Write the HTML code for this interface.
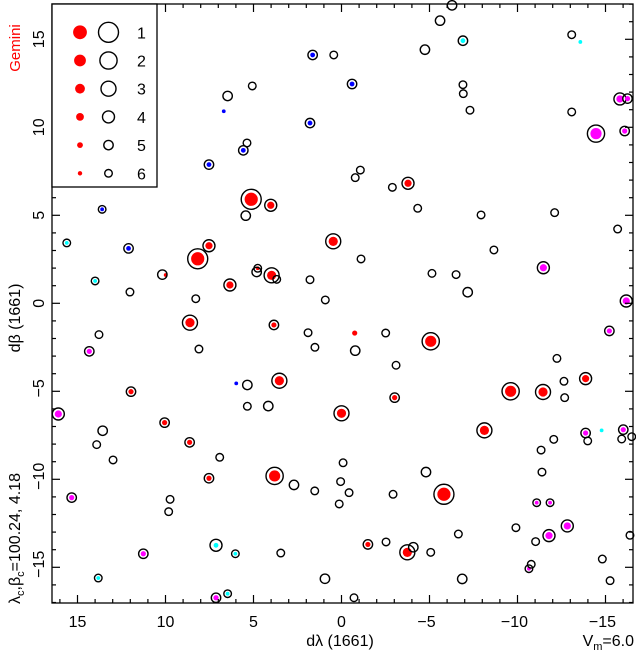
<!DOCTYPE html>
<html><head><meta charset="utf-8"><style>
html,body{margin:0;padding:0;background:#fff;}
svg{display:block;font-family:"Liberation Sans",sans-serif;}
</style></head><body>
<svg id="chart" width="636" height="655" viewBox="0 0 636 655" xmlns="http://www.w3.org/2000/svg">
<g id="marks"></g>
<g id="axes"></g>
<rect x="52" y="4" width="105" height="183" fill="#fff" stroke="#000" stroke-width="1.3"/>
<g id="legend"></g>
<text transform="translate(20,48) rotate(-90)" text-anchor="middle" font-size="15" fill="#ff0000">Gemini</text>
<text transform="translate(20,318) rotate(-90)" text-anchor="middle" font-size="16">dβ (1661)</text>
<text transform="translate(20,604) rotate(-90)" font-size="16">λ<tspan font-size="11" dy="4">c</tspan><tspan dy="-4">,β</tspan><tspan font-size="11" dy="4">c</tspan><tspan dy="-4">=100.24,   4.18</tspan></text>
<text x="340" y="646" text-anchor="middle" font-size="16">dλ (1661)</text>
<text x="634" y="646" text-anchor="end" font-size="16">V<tspan font-size="11" dy="4">m</tspan><tspan dy="-4">=6.0</tspan></text>
</svg>
<script>
const dl=[8.17,5.13,4.02,7.53,0.47,3.97,4.76,4.82,3.68,6.34,9.99,10.18,12.02,8.28,1.79,0.92,15.61,14.0,12.1,13.6,7.53,5.58,5.37,1.79,1.64,0.44,6.69,6.47,5.07,5.44,
-6.28,-5.6,-6.9,-13.08,-13.57,-4.74,-0.6,-6.9,-6.92,-7.3,-13.08,-15.82,-16.25,-14.46,-16.09,-3.78,-1.07,-0.78,-2.89,-4.33,-7.93,-12.11,-15.69,-1.11,-8.66,-5.14,-6.51,-7.17,-11.47,-16.18,
8.61,3.84,13.78,8.1,1.9,1.51,14.33,5.98,5.35,3.53,11.96,16.09,5.35,4.16,0.0,10.05,13.57,13.91,8.63,12.98,6.92,7.53,3.8,2.7,1.52,0.13,0.05,15.33,9.74,9.82,7.13,6.03,11.26,3.45,13.82,0.94,7.13,6.47,
-0.75,-2.51,-5.07,-0.78,-3.1,-3.02,-9.61,-11.45,-13.87,-12.24,-12.64,-12.68,-15.22,-8.12,-13.87,-13.99,-14.78,-16.01,-15.92,-16.49,-12.06,-11.34,-11.39,-4.8,-5.82,-2.93,-0.43,-11.09,-11.85,-12.83,-11.79,-9.91,-11.03,-6.64,-1.5,-2.53,-3.74,-4.08,-5.07,-10.65,-10.78,-14.82,-15.26,-16.39,-6.86,-0.71,-0.09];
const db=[2.53,5.91,5.57,3.27,3.52,1.59,1.99,1.78,1.36,1.04,1.61,1.63,0.64,0.26,1.34,0.19,3.43,1.27,3.12,5.34,7.88,8.69,9.11,10.24,14.11,14.11,10.91,11.78,12.35,4.98,
16.93,16.06,14.92,15.26,14.85,14.41,12.46,12.42,11.91,10.97,10.87,11.61,11.63,9.64,9.79,6.82,7.57,7.14,6.59,5.4,5.02,5.15,4.22,2.52,3.03,1.7,1.63,0.63,2.02,0.13,
-1.1,-1.23,-1.78,-2.6,-1.67,-2.5,-2.73,-4.55,-4.64,-4.4,-5.02,-6.29,-5.85,-5.84,-6.25,-6.78,-7.24,-8.03,-7.9,-8.9,-8.75,-9.94,-9.81,-10.32,-10.66,-11.4,-10.13,-11.04,-11.14,-11.84,-13.75,-14.23,-14.23,-14.19,-15.61,-15.65,-16.73,-16.5,
-1.69,-1.69,-2.16,-2.69,-3.52,-5.36,-5.0,-5.04,-4.28,-3.13,-4.43,-5.36,-1.57,-7.22,-7.37,-7.82,-7.22,-7.18,-7.71,-7.58,-7.73,-8.34,-9.59,-9.59,-10.85,-10.85,-10.76,-11.33,-11.33,-12.65,-13.2,-12.75,-13.54,-13.11,-13.7,-13.56,-14.15,-13.86,-14.15,-15.08,-14.83,-14.53,-15.76,-13.18,-15.66,-16.73,-9.06];
const mag=[1,1,4,4,3,3,6,5,6,4,6,5,6,6,6,6,6,6,5,6,5,5,6,5,5,6,6,5,6,5,
5,5,5,6,6,5,5,6,6,6,6,4,5,2,5,4,6,6,6,6,6,6,6,6,6,6,6,5,4,4,
3,5,6,6,6,6,5,6,5,3,5,4,6,5,3,5,5,6,5,6,6,5,2,5,6,6,6,5,6,6,4,6,5,6,6,5,5,6,
5,6,2,5,6,5,2,3,4,6,6,6,5,3,5,6,6,5,6,6,6,6,6,5,1,6,6,6,6,4,4,6,6,6,5,6,3,5,6,6,6,6,6,6,5,6,6];
const col=['r','r','r','r','r','r','r','','','r','r','','','','','','c','c','b','b','b','b','','b','b','','b','','','',
'','','c','','c','','b','','','','','m','m','m','m','r','','','','','','','','','','','','','m','m',
'r','r','','','','','m','b','','r','r','m','','','r','r','','','r','','','r','r','','','','','m','','','c','c','m','','c','','m','c',
'r','','r','','','r','r','r','r','','','','m','r','m','','c','m','','','','','','','r','','','m','m','m','m','','','','r','','r','','','m','','','','','','',''];
const ring=[1,1,1,1,1,1,1,1,1,1,0,1,1,1,1,1,1,1,1,1,1,1,1,1,1,1,0,1,1,1,
1,1,1,1,0,1,1,1,1,1,1,1,1,1,1,1,1,1,1,1,1,1,1,1,1,1,1,1,1,1,
1,1,1,1,1,1,1,0,1,1,1,1,1,1,1,1,1,1,1,1,1,1,1,1,1,1,1,1,1,1,1,1,1,1,1,1,1,1,
0,1,1,1,1,1,1,1,1,1,1,1,1,1,1,1,0,1,1,1,1,1,1,1,1,1,1,1,1,1,1,1,1,1,1,1,1,1,1,1,1,1,1,1,1,1,1];
const xTicks=[15,10,5,0,-5,-10,-15];
const yTicks=[15,10,5,0,-5,-10,-15];
const xTickLabels=['15','10','5','0','−5','−10','−15'];
const yTickLabels=['15','10','5','0','−5','−10','−15'];
const legendMags=[1,2,3,4,5,6];

const NS='http://www.w3.org/2000/svg';
const L=52,R=633,T=4,B=603;
const X0=341.5,Y0=303.3,S=17.6;
function sx(v){return X0-S*v;}
function sy(v){return Y0-S*v;}
const ringR=[0,10,8.6,7.5,6,4.7,3.8];
const dotR=[0,6.6,5.6,4.6,3.6,2.6,1.9];
const colors={r:'#ff0000',b:'#0000ff',c:'#00ffff',m:'#ff00ff'};
function mk(tag,attrs,parent){const e=document.createElementNS(NS,tag);for(const k in attrs)e.setAttribute(k,attrs[k]);parent.appendChild(e);return e;}

const marks=document.getElementById('marks');
for(let i=0;i<dl.length;i++){
  const cx=sx(dl[i]),cy=sy(db[i]),m=mag[i];
  if(col[i]){
    const dr=(col[i]==='c'||col[i]==='b')?Math.min(dotR[m],2.4):dotR[m];
    const d=mk('circle',{cx:cx,cy:cy,r:dr,fill:colors[col[i]]},marks);
    
    
  }
  if(ring[i]){
    const c=mk('circle',{cx:cx,cy:cy,r:ringR[m],fill:'none',stroke:'#000','stroke-width':1.4},marks);
    
    
  }
}

const ax=document.getElementById('axes');
const fr=mk('rect',{x:L,y:T,width:R-L,height:B-T,fill:'none',stroke:'#000','stroke-width':1.3},ax);


for(let v=-16;v<=16;v++){
  const x=sx(v),len=(v%5===0)?8:4;
  if(x<L||x>R)continue;
  const t1=mk('line',{x1:x,y1:B,x2:x,y2:B-len,stroke:'#000','stroke-width':1.2},ax);
  
  
  const t2=mk('line',{x1:x,y1:T,x2:x,y2:T+len,stroke:'#000','stroke-width':1.2},ax);
  
  
}
for(let v=-17;v<=17;v++){
  const y=sy(v),len=(v%5===0)?8:4;
  if(y<T||y>B)continue;
  const t1=mk('line',{x1:L,y1:y,x2:L+len,y2:y,stroke:'#000','stroke-width':1.2},ax);
  
  
  const t2=mk('line',{x1:R,y1:y,x2:R-len,y2:y,stroke:'#000','stroke-width':1.2},ax);
  
  
}
xTicks.forEach((v,i)=>{
  const t=mk('text',{x:sx(v)-(v<0?3:0),y:627,'text-anchor':'middle','font-size':16},ax);
  t.textContent=xTickLabels[i];
  
  
});
yTicks.forEach((v,i)=>{
  const t=mk('text',{transform:'translate(44,'+(sy(v)-(v<0?3:0))+') rotate(-90)','text-anchor':'middle','font-size':16},ax);
  t.textContent=yTickLabels[i];
  
  
});

const lg=document.getElementById('legend');
legendMags.forEach((m,i)=>{
  const y=32.3+28.2*i;
  const d=mk('circle',{cx:80,cy:y,r:dotR[m]+0.3,fill:'#ff0000'},lg);
  
  
  const c=mk('circle',{cx:108.5,cy:y,r:ringR[m],fill:'none',stroke:'#000','stroke-width':1.4},lg);
  
  
  const t=mk('text',{x:137,y:y+6,'font-size':16},lg);
  t.textContent=String(m);
  
  
});
</script>
</body></html>
